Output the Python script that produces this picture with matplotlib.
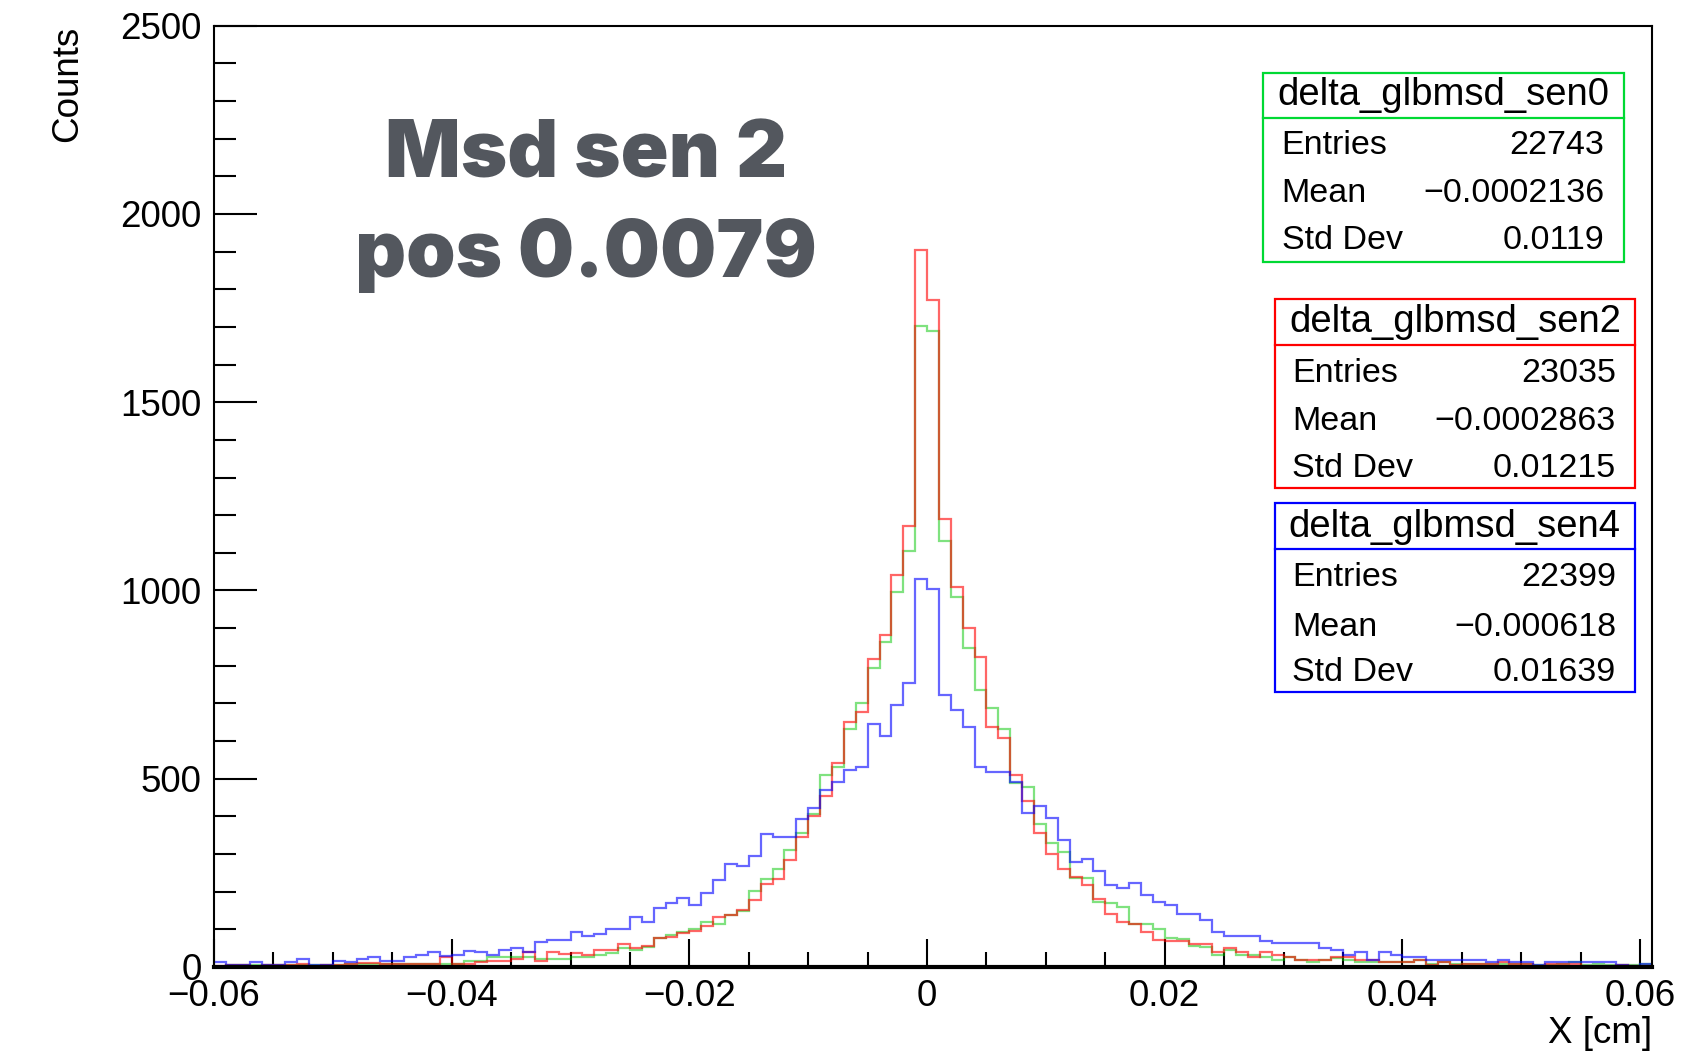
import numpy as np
import matplotlib
matplotlib.use("Agg")
import matplotlib.pyplot as plt
from matplotlib.patches import Rectangle
from matplotlib.lines import Line2D
from matplotlib.ticker import MultipleLocator, FixedLocator

# ---------------- data ----------------
bin_low = -0.06
bin_width = 0.001
n_bins = 121

sen0 = [0, 4, 4, 4, 4, 4, 4, 4, 4, 4, 4, 7, 9, 9, 7, 7, 7, 7, 9, 9, 7, 17, 17, 26, 26, 26, 26, 20, 20, 22,
        26, 27, 33, 37, 50, 46, 53, 78, 84, 93, 101, 119, 115, 137, 148, 203, 235, 261, 312, 357, 407, 509, 531, 633,
        702, 793, 862, 997, 1106, 1702, 1688, 1132, 983, 846, 735, 689, 632,
        490, 478, 381, 330, 305, 236, 236, 172, 171, 159, 113, 113, 101, 78, 75, 57, 53, 33, 44, 31,
        32, 26, 19, 26, 19, 14, 19, 24, 19, 14, 14, 14, 14, 14, 19, 9, 14, 9, 9, 9, 7, 7, 7, 7, 5, 5, 9, 14, 5, 7, 5, 5, 5, 9]

sen2 = [3, 5, 5, 0, 5, 5, 5, 7, 1, 5, 5, 9, 10, 10, 9, 9, 9, 9, 9, 26, 7, 7, 14, 17, 17, 20, 39, 17, 39, 35,
        37, 31, 44, 44, 62, 50, 57, 78, 81, 90, 95, 108, 132, 139, 152, 179, 221, 235, 285, 344, 401, 453, 542, 651,
        678, 817, 882, 1041, 1170, 1904, 1771, 1189, 1008, 901, 824, 638, 607,
        511, 440, 357, 301, 261, 239, 217, 181, 141, 119, 115, 94, 72, 70, 70, 62, 62, 41, 50, 41,
        26, 39, 32, 26, 19, 19, 19, 26, 26, 19, 19, 14, 14, 14, 19, 5, 14, 5, 7, 7, 7, 14, 9, 7, 2, 7, 7, 7, 2, 2, 2, 5, 2, 2]

sen4 = [14, 5, 5, 14, 5, 5, 14, 20, 5, 5, 17, 14, 20, 26, 17, 17, 26, 32, 39, 29, 32, 43, 39, 32, 45, 50, 40, 66, 72, 72,
        94, 82, 88, 101, 101, 132, 119, 157, 171, 184, 165, 196, 230, 274, 267, 294, 352, 344, 344, 394, 423, 471, 492, 524,
        530, 645, 614, 695, 753, 1030, 1003, 722, 683, 638, 530, 517, 517,
        492, 409, 427, 396, 338, 279, 286, 255, 217, 211, 224, 190, 172, 165, 140, 140, 126, 94, 82, 82,
        82, 70, 65, 65, 65, 65, 51, 45, 32, 39, 19, 39, 32, 26, 26, 19, 19, 19, 19, 19, 14, 19, 14, 14, 5, 14, 14, 14, 14, 14, 14, 5, 2, 9]

names = ["delta_glbmsd_sen0", "delta_glbmsd_sen2", "delta_glbmsd_sen4"]
entries = ["22743", "23035", "22399"]
means = ["\u22120.0002136", "\u22120.0002863", "\u22120.000618"]
stddevs = ["0.0119", "0.01215", "0.01639"]

xtick_vals = [-0.06, -0.04, -0.02, 0, 0.02, 0.04, 0.06]
xtick_labels = ["\u22120.06", "\u22120.04", "\u22120.02", "0", "0.02", "0.04", "0.06"]
ytick_vals = [0, 500, 1000, 1500, 2000, 2500]
ytick_labels = ["0", "500", "1000", "1500", "2000", "2500"]

title_lines = ["Msd sen 2", "pos 0.0079"]

# ---------------- figure ----------------
W, H = 1701, 1055
plt.rcParams['font.family'] = ['Liberation Sans', 'DejaVu Sans']
fig = plt.figure(figsize=(W / 100, H / 100), dpi=100)
fig.patch.set_facecolor('white')

def fx(px):
    return px / W

def fy(py):
    return 1 - py / H

ax_l, ax_r, ax_t, ax_b = 214, 1652, 25.7, 967
ax = fig.add_axes([fx(ax_l), fy(ax_b), (ax_r - ax_l) / W, (ax_b - ax_t) / H])

edges = np.round(bin_low + bin_width * np.arange(n_bins + 1), 6)

line_cols = [((0.0, 0.78, 0.0), 0.5), ((1.0, 0.0, 0.0), 0.6), ((0.0, 0.0, 1.0), 0.6)]
for vals, (c, a) in zip([sen0, sen2, sen4], line_cols):
    ax.stairs(vals, edges, color=c, alpha=a, lw=1.6, baseline=None, zorder=2)

ax.set_xlim(edges[0], edges[-1])
ax.set_ylim(0, 2500)

for s in ax.spines.values():
    s.set_linewidth(1.5)
    s.set_zorder(5)
ax.spines['bottom'].set_linewidth(3.0)

ax.xaxis.set_major_locator(FixedLocator(xtick_vals))
ax.set_xticklabels(xtick_labels)
ax.xaxis.set_minor_locator(MultipleLocator(0.005))
ax.yaxis.set_major_locator(FixedLocator(ytick_vals))
ax.set_yticklabels(ytick_labels)
ax.yaxis.set_minor_locator(MultipleLocator(100))

ax.tick_params(axis='x', which='major', direction='in', length=20, width=1.5, labelsize=26.5, pad=9)
ax.tick_params(axis='x', which='minor', direction='in', length=11, width=1.5)
ax.tick_params(axis='y', which='major', direction='in', length=31, width=1.5, labelsize=26.5, pad=9)
ax.tick_params(axis='y', which='minor', direction='in', length=16, width=1.5)
ax.tick_params(top=False, right=False, which='both')

# axis titles
fig.text(fx(ax_r), fy(1043), "X [cm]", ha='right', va='baseline', fontsize=26.5)
fig.text(fx(68), fy(ax_t), "Counts", ha='center', va='top', rotation=90, fontsize=26.5)

# big annotation
fig.text(fx(586), fy(178), title_lines[0], ha='center', va='baseline', fontsize=57,
         family=['Inter', 'DejaVu Sans'], fontweight=900, color='#53575e')
fig.text(fx(586), fy(277), title_lines[1], ha='center', va='baseline', fontsize=57,
         family=['Inter', 'DejaVu Sans'], fontweight=900, color='#53575e')

# stat boxes
boxes = [
    dict(x0=1262.7, x1=1624, y0=72.7, y1=261.7, sep=118.3, tb=105, rows=[154, 202, 249.5],
         lx=1281.7, rx=1604.5, col=(0.0, 0.85, 0.2)),
    dict(x0=1274.7, x1=1635, y0=299.4, y1=488.4, sep=345, tb=332, rows=[382, 430.5, 477.3],
         lx=1292, rx=1616, col=(1.0, 0.0, 0.0)),
    dict(x0=1274.7, x1=1635, y0=503.4, y1=692, sep=549, tb=537, rows=[586, 636, 681],
         lx=1292, rx=1616, col=(0.0, 0.0, 1.0)),
]
for b, nm, en, mn, sd in zip(boxes, names, entries, means, stddevs):
    fig.patches.append(Rectangle((fx(b['x0']), fy(b['y1'])), (b['x1'] - b['x0']) / W,
                                 (b['y1'] - b['y0']) / H, transform=fig.transFigure,
                                 facecolor='white', edgecolor=b['col'], lw=1.6, zorder=10))
    fig.lines.append(Line2D([fx(b['x0']), fx(b['x1'])], [fy(b['sep']), fy(b['sep'])],
                            transform=fig.transFigure, color=b['col'], lw=1.6, zorder=11))
    fig.text(fx((b['x0'] + b['x1']) / 2), fy(b['tb']), nm, ha='center', va='baseline',
             fontsize=27.5, zorder=12)
    for rb, lab, val in zip(b['rows'], ["Entries", "Mean", "Std Dev"], [en, mn, sd]):
        fig.text(fx(b['lx']), fy(rb), lab, ha='left', va='baseline', fontsize=24.5, zorder=12)
        fig.text(fx(b['rx']), fy(rb), val, ha='right', va='baseline', fontsize=24.5, zorder=12)

fig.savefig("out.png", dpi=100)
